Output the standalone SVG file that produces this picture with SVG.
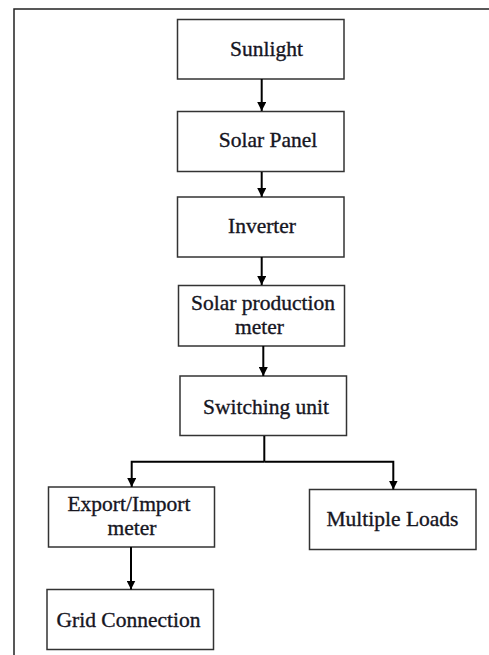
<svg xmlns="http://www.w3.org/2000/svg" width="489" height="655" viewBox="0 0 489 655">
  <style>
    .box { fill: #ffffff; stroke: #333333; stroke-width: 1.5; }
    .lbl { font-family: "Liberation Serif", "Times New Roman", serif; font-size: 21.5px; fill: #16161f; stroke: #16161f; stroke-width: 0.35; }
    .wire { fill: none; stroke: #000000; stroke-width: 2; }
    .frame { fill: none; stroke: #222222; stroke-width: 1.5; }
  </style>
  <defs>
    <marker id="arrow" markerUnits="userSpaceOnUse" markerWidth="10" markerHeight="9" refX="9" refY="4.5" orient="auto">
      <path d="M0,0 L9,4.5 L0,9 Z" fill="#000000"/>
    </marker>
  </defs>

  <rect width="489" height="655" fill="#ffffff"/>
  <!-- page frame: only left and top edges fall inside the canvas -->
  <path class="frame" d="M14,655 L14,9 L489,9"/>

  <g id="sunlight">
    <rect class="box" x="177.5" y="19.5" width="166.5" height="59.5"/>
    <text class="lbl" x="266.5" y="56" text-anchor="middle">Sunlight</text>
  </g>
  <g id="solar-panel">
    <rect class="box" x="177.5" y="111.5" width="166.5" height="60"/>
    <text class="lbl" x="268" y="147" text-anchor="middle">Solar Panel</text>
  </g>
  <g id="inverter">
    <rect class="box" x="177.5" y="197" width="166.5" height="60"/>
    <text class="lbl" x="262" y="233" text-anchor="middle">Inverter</text>
  </g>
  <g id="solar-production-meter">
    <rect class="box" x="178.5" y="285.5" width="166" height="60.5"/>
    <text class="lbl" x="263" y="310" text-anchor="middle">Solar production</text>
    <text class="lbl" x="259.5" y="333.5" text-anchor="middle">meter</text>
  </g>
  <g id="switching-unit">
    <rect class="box" x="180" y="376" width="166.5" height="59.5"/>
    <text class="lbl" x="266" y="413.5" text-anchor="middle">Switching unit</text>
  </g>
  <g id="export-import-meter">
    <rect class="box" x="48.5" y="487" width="166" height="60"/>
    <text class="lbl" x="129" y="511" text-anchor="middle">Export/Import</text>
    <text class="lbl" x="132" y="534.5" text-anchor="middle">meter</text>
  </g>
  <g id="multiple-loads">
    <rect class="box" x="309.5" y="489.5" width="166.5" height="60"/>
    <text class="lbl" x="392.5" y="526" text-anchor="middle">Multiple Loads</text>
  </g>
  <g id="grid-connection">
    <rect class="box" x="47" y="589.5" width="166.5" height="60"/>
    <text class="lbl" x="128.5" y="626.5" text-anchor="middle">Grid Connection</text>
  </g>

  <g id="connectors">
    <path class="wire" d="M261.7,79 L261.7,111" marker-end="url(#arrow)"/>
    <path class="wire" d="M261.7,172 L261.7,197" marker-end="url(#arrow)"/>
    <path class="wire" d="M261.7,257 L261.7,285" marker-end="url(#arrow)"/>
    <path class="wire" d="M263.3,346 L263.3,376" marker-end="url(#arrow)"/>
    <path class="wire" d="M264.3,436 L264.3,461.7"/>
    <path class="wire" d="M264.3,461.7 L131.7,461.7 L131.7,487" marker-end="url(#arrow)"/>
    <path class="wire" d="M264.3,461.7 L393.3,461.7 L393.3,489.5" marker-end="url(#arrow)"/>
    <path class="wire" d="M131,547 L131,589.5" marker-end="url(#arrow)"/>
  </g>
</svg>
